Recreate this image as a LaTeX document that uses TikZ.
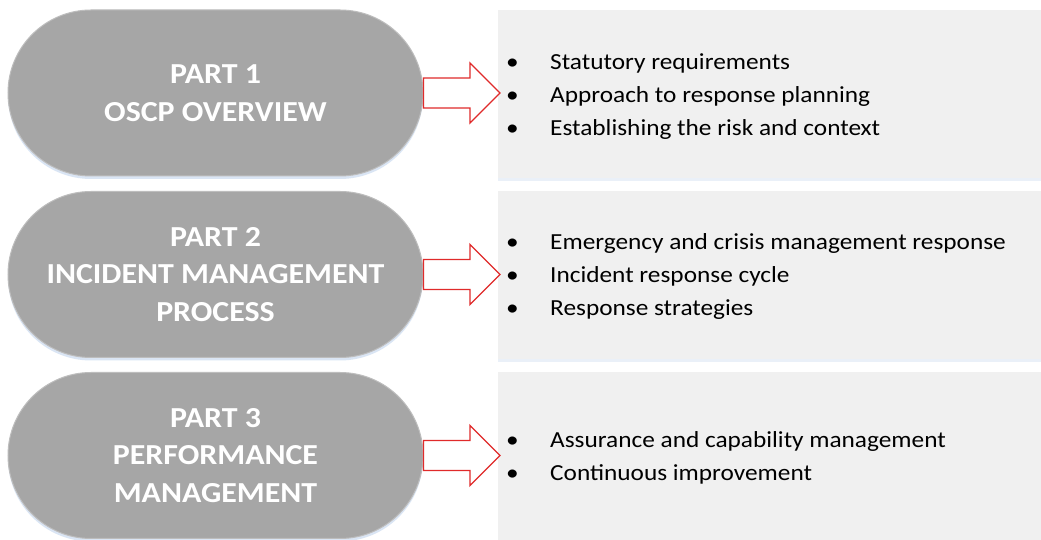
\documentclass[tikz,border=0pt]{standalone}
\usepackage{fontspec}
\setmainfont{Carlito}[FakeStretch=1.1]
\usetikzlibrary{shapes.misc,shadows,calc}
\definecolor{pillgray}{HTML}{A6A6A6}
\definecolor{pillline}{HTML}{BDBDBD}
\definecolor{boxgray}{HTML}{F0F0F0}
\definecolor{arrred}{HTML}{E02A2A}
\definecolor{glow}{HTML}{D6E3F3}
\tikzset{
  pill/.style={rounded rectangle, draw=pillline, line width=1pt, fill=pillgray,
    minimum width=415pt, minimum height=166pt, inner sep=0pt,
    text=white, align=center, font=\fontsize{29}{37.5}\selectfont\bfseries,
    drop shadow={shadow xshift=0pt, shadow yshift=-3pt, fill=glow, opacity=0.9}},
  listbox/.style={rectangle, fill=boxgray, minimum width=543pt, minimum height=168pt,
    inner sep=0pt, anchor=south west,
    drop shadow={shadow xshift=0pt, shadow yshift=-3pt, fill=glow, opacity=0.5}},
  listtext/.style={anchor=west, inner sep=0pt, align=left, text=black,
    font=\fontsize{23}{33}\selectfont},
  bigarrow/.style={draw=arrred, fill=white, line width=1.3pt, line join=miter}
}
\newcommand{\bul}{\makebox[44pt][l]{\textbullet}}
\newcommand{\fatarrow}[2]{%
  \draw[bigarrow] ($(#1.east)+(0,15)$) -- ($(#2.west |- #1.east)+(-28,15)$)
    -- ($(#2.west |- #1.east)+(-28,30)$) -- ($(#2.west |- #1.east)+(2,0)$)
    -- ($(#2.west |- #1.east)+(-28,-30)$) -- ($(#2.west |- #1.east)+(-28,-15)$)
    -- ($(#1.east)+(0,-15)$) -- cycle;}
\begin{document}
\begin{tikzpicture}[x=1pt,y=1pt]
\useasboundingbox (0,0) rectangle (1041,540);
\fill[white] (0,0) rectangle (1041,540);
% boxes
\node[listbox] (b1) at (498,362) {};
\node[listbox] (b2) at (498,181) {};
\node[listbox] (b3) at (498,0) {};
% pills
\node[pill] (p1) at (215.5,447) {PART 1\\OSCP OVERVIEW};
\node[pill] (p2) at (215.5,265.5) {PART 2\\INCIDENT MANAGEMENT\\PROCESS};
\node[pill] (p3) at (215.5,84.5) {PART 3\\PERFORMANCE\\MANAGEMENT};
% lists
\node[listtext] (t1) at ($(b1.west)+(8,-3)$) {\bul Statutory requirements\\\bul Approach to response planning\\\bul Establishing the risk and context};
\node[listtext] (t2) at ($(b2.west)+(8,-2)$) {\bul Emergency and crisis management response\\\bul Incident response cycle\\\bul Response strategies};
\node[listtext] (t3) at ($(b3.west)+(8,-2)$) {\bul Assurance and capability management\\\bul Continuous improvement};
% arrows
\fatarrow{p1}{b1}
\fatarrow{p2}{b2}
\fatarrow{p3}{b3}
\end{tikzpicture}
\end{document}
